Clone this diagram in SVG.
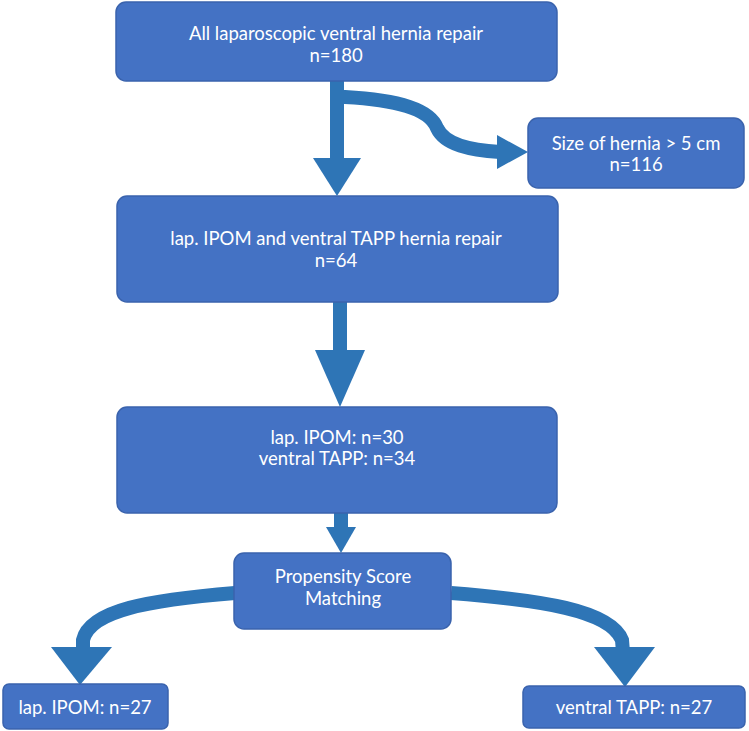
<svg xmlns="http://www.w3.org/2000/svg" width="749" height="731" viewBox="0 0 749 731">
<style>
.box{fill:#4472c4;stroke:#3a63ad;stroke-width:1.5}
.t{font-family:Lato,"Open Sans",sans-serif;font-size:18.5px;fill:#fff;text-anchor:middle}
.ln{fill:none;stroke:#2e75b6;stroke-width:14}
.hd{fill:#2e75b6}
</style>
<rect width="749" height="731" fill="#fff"/>
<g id="connectors">
<line class="ln" x1="337" y1="81" x2="337" y2="162"/>
<polygon class="hd" points="313,158 361,158 337,196"/>
<path class="ln" d="M337,97 L345,97 C400,100 430,110 437,128 C445,145 470,150 500,152"/>
<polygon class="hd" points="497,135 528,152 497,169"/>
<line class="ln" x1="340" y1="302" x2="340" y2="354"/>
<polygon class="hd" points="315,350 365,350 340,407"/>
<line class="ln" x1="341" y1="513" x2="341" y2="531"/>
<polygon class="hd" points="326,527 356,527 341,553"/>
<path class="ln" d="M235,593 C150,600 90,610 83,640 L83,652"/>
<polygon class="hd" points="51,647 112,647 80,685"/>
<path class="ln" d="M451,593 C540,600 610,610 622,640 L623,652"/>
<polygon class="hd" points="594,647 655,647 625,687"/>
</g>
<g id="n1"><rect class="box" x="116" y="2" width="441" height="79" rx="10"/><text class="t" x="336" y="40">All laparoscopic ventral hernia repair</text><text class="t" x="336" y="62">n=180</text></g>
<g id="n2"><rect class="box" x="528" y="118" width="216" height="70" rx="10"/><text class="t" x="636" y="150">Size of hernia &gt; 5 cm</text><text class="t" x="636" y="171">n=116</text></g>
<g id="n3"><rect class="box" x="117" y="196" width="441" height="106" rx="10"/><text class="t" x="336" y="245">lap. IPOM and ventral TAPP hernia repair</text><text class="t" x="336" y="267">n=64</text></g>
<g id="n4"><rect class="box" x="117" y="407" width="440" height="106" rx="10"/><text class="t" x="337" y="444">lap. IPOM: n=30</text><text class="t" x="337" y="465">ventral TAPP: n=34</text></g>
<g id="n5"><rect class="box" x="234" y="553" width="217" height="76" rx="10"/><text class="t" x="343" y="583">Propensity Score</text><text class="t" x="343" y="605">Matching</text></g>
<g id="n6"><rect class="box" x="3" y="684" width="165" height="45" rx="6"/><text class="t" x="85" y="714">lap. IPOM: n=27</text></g>
<g id="n7"><rect class="box" x="523" y="686" width="222" height="42" rx="6"/><text class="t" x="634" y="714">ventral TAPP: n=27</text></g>
</svg>
